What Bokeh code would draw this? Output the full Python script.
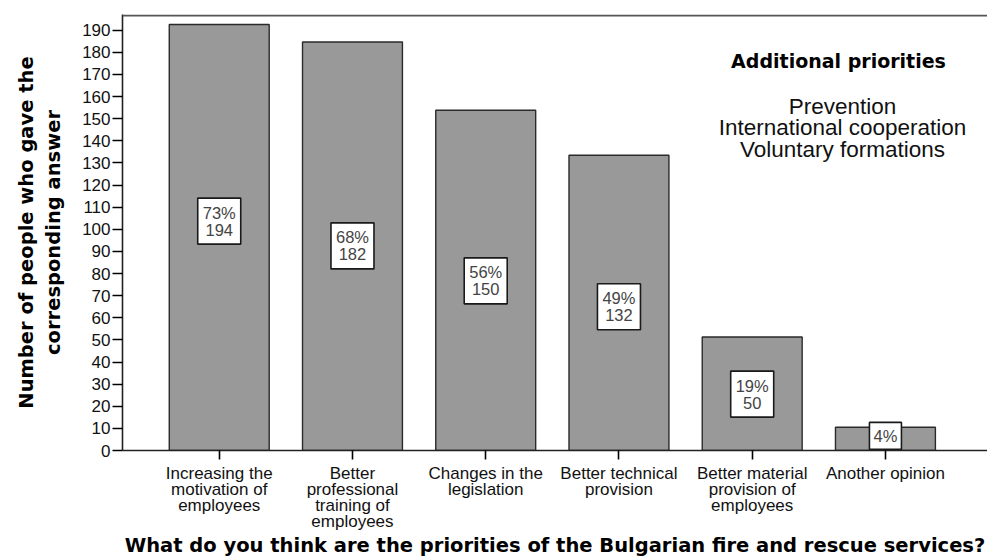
from bokeh.plotting import figure
from bokeh.models import FixedTicker, Span, Range1d, ColumnDataSource, Label
from bokeh.core.properties import value
from bokeh.embed import file_html
from bokeh.resources import INLINE

categories = [
    "Increasing the\nmotivation of\nemployees",
    "Better\nprofessional\ntraining of\nemployees",
    "Changes in the\nlegislation",
    "Better technical\nprovision",
    "Better material\nprovision of\nemployees",
    "Another opinion",
]
bar_heights = [192.6, 184.7, 153.8, 133.5, 51.3, 10.5]
label_texts = ["73%\n194", "68%\n182", "56%\n150", "49%\n132", "19%\n50", "4%"]
label_y = [103.7, 92.5, 76.7, 65.0, 25.5, 6.6]
y_ticks = list(range(0, 200, 10))
extra_title = "Additional priorities"
extra_items = ["Prevention", "International cooperation", "Voluntary formations"]

xs = list(range(len(categories)))

FRAME_LEFT, FRAME_BOTTOM = 122, 450

p = figure(width=987, height=559, output_backend="svg", toolbar_location=None,
           x_range=Range1d(-0.726, 5.766), y_range=Range1d(0, 197.1),
           min_border_left=FRAME_LEFT, min_border_right=0, min_border_top=14,
           min_border_bottom=559 - FRAME_BOTTOM)
p.outline_line_color = None
p.background_fill_color = "white"
p.border_fill_color = "white"
p.grid.grid_line_color = None

src = ColumnDataSource(dict(x=xs, top=bar_heights, ly=label_y, lt=label_texts,
                            bw=[43 if "\n" in t else 32 for t in label_texts],
                            bh=[46 if "\n" in t else 27 for t in label_texts]))
p.vbar(x="x", top="top", bottom=0, width=0.75, source=src,
       fill_color="#999999", line_color="#2a2a2a", line_width=1.4)
p.rect(x="x", y="ly", width="bw", height="bh", width_units="screen", height_units="screen",
       source=src, fill_color="white", line_color="#1a1a1a", line_width=1.6)
p.text(x="x", y="ly", text="lt", source=src, text_align="center", text_baseline="middle",
       text_font=value("Liberation Sans"), text_font_size="16.5px", text_color="#444444",
       text_line_height=0.95)

p.add_layout(Span(location=196.6, dimension="width", line_color="#555555", line_width=2))

# axes
p.xaxis.ticker = FixedTicker(ticks=xs)
p.xaxis.major_label_overrides = {i: c for i, c in enumerate(categories)}
p.xaxis.major_tick_out = 9
p.xaxis.major_tick_in = 0
p.xaxis.minor_tick_line_color = None
p.xaxis.axis_line_width = 1.6
p.xaxis.axis_line_color = "#222222"
p.xaxis.major_tick_line_width = 1.6
p.xaxis.major_label_text_font = "Liberation Sans"
p.xaxis.major_label_text_font_size = "17px"
p.xaxis.major_label_text_line_height = 0.85
p.xaxis.major_label_text_color = "#111111"
p.xaxis.major_label_standoff = 4
p.xaxis.axis_label = "What do you think are the priorities of the Bulgarian fire and rescue services?"
p.xaxis.axis_label_text_font = "DejaVu Sans"
p.xaxis.axis_label_text_font_style = "bold"
p.xaxis.axis_label_text_font_size = "19.5px"
p.xaxis.axis_label_text_color = "#000000"
p.xaxis.axis_label_standoff = 0

p.yaxis.ticker = FixedTicker(ticks=y_ticks)
p.yaxis.major_tick_out = 10
p.yaxis.major_tick_in = 0
p.yaxis.minor_tick_line_color = None
p.yaxis.axis_line_width = 1.6
p.yaxis.axis_line_color = "#222222"
p.yaxis.major_tick_line_width = 1.6
p.yaxis.major_label_text_font = "Liberation Sans"
p.yaxis.major_label_text_font_size = "17px"
p.yaxis.major_label_text_color = "#111111"
p.yaxis.major_label_standoff = 2
p.yaxis.axis_label = "Number of people who gave the\ncorresponding answer"
p.yaxis.axis_label_text_font = "DejaVu Sans"
p.yaxis.axis_label_text_font_style = "bold"
p.yaxis.axis_label_text_font_size = "19.5px"
p.yaxis.axis_label_text_line_height = 1.2
p.yaxis.axis_label_text_color = "#000000"
p.yaxis.axis_label_standoff = 14

# screen units of Label are relative to the plot frame
p.add_layout(Label(x=838 - FRAME_LEFT, y=FRAME_BOTTOM - 60, x_units="screen", y_units="screen",
                   text=extra_title, text_align="center", text_baseline="middle",
                   text_font="DejaVu Sans", text_font_style="bold", text_font_size="19px",
                   text_color="#000000"))
p.add_layout(Label(x=842 - FRAME_LEFT, y=FRAME_BOTTOM - 127, x_units="screen", y_units="screen",
                   text="\n".join(extra_items), text_align="center", text_baseline="middle",
                   text_font="Liberation Sans", text_font_size="22.5px", text_color="#111111",
                   text_line_height=0.86))

open("out.html", "w").write(file_html(p, INLINE))
